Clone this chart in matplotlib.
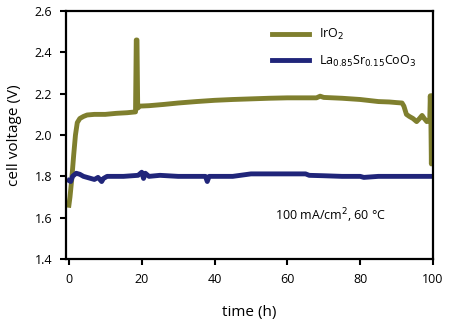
#!/usr/bin/env python3

from matplotlib import pyplot as plt

# IrO2 cell voltage (V) vs time (h)
t_iro2 = [0, 0.3, 0.8, 1.3, 1.8, 2.3, 3.0, 4.0, 5, 7, 10, 13, 16, 18.3, 18.5,
          18.7, 18.9, 19.5, 22, 26, 30, 35, 40, 45, 50, 55, 60, 65, 68, 69, 70,
          75, 80, 85, 88, 90, 91.5, 92, 92.7, 93.5, 94.5, 95.5, 96.3, 97, 97.6,
          98.3, 98.8, 99.1, 99.25, 99.4, 99.55, 99.7, 99.85, 100]
v_iro2 = [1.66, 1.70, 1.79, 1.90, 2.00, 2.06, 2.08, 2.09, 2.097, 2.10, 2.10,
          2.105, 2.108, 2.112, 2.46, 2.46, 2.13, 2.14, 2.142, 2.148, 2.155,
          2.162, 2.168, 2.172, 2.175, 2.178, 2.18, 2.18, 2.18, 2.188, 2.182,
          2.178, 2.172, 2.162, 2.16, 2.157, 2.155, 2.14, 2.10, 2.09, 2.08,
          2.065, 2.08, 2.095, 2.08, 2.065, 2.07, 2.07, 2.19, 2.10, 1.86, 2.19,
          2.12, 2.17]

# La0.85Sr0.15CoO3 cell voltage (V) vs time (h)
t_lsc = [0, 0.5, 1, 2, 3, 4, 5, 6, 7, 8, 9, 9.5, 10.5, 15, 19, 20, 20.5, 21,
         22, 25, 30, 37.5, 38, 38.5, 45, 50, 55, 60, 65, 66, 70, 75, 80, 81,
         85, 90, 95, 100]
v_lsc = [1.78, 1.775, 1.80, 1.815, 1.81, 1.80, 1.795, 1.79, 1.785, 1.795,
         1.775, 1.79, 1.80, 1.80, 1.805, 1.82, 1.79, 1.815, 1.80, 1.805, 1.80,
         1.80, 1.775, 1.80, 1.80, 1.812, 1.812, 1.812, 1.812, 1.805, 1.803,
         1.80, 1.80, 1.795, 1.80, 1.80, 1.80, 1.80]

x_ticks = [0, 20, 40, 60, 80, 100]
y_ticks = [1.4, 1.6, 1.8, 2.0, 2.2, 2.4, 2.6]

plt.rcParams['font.family'] = ['Open Sans', 'DejaVu Sans']
plt.rcParams.update({'font.size': 9})

fig = plt.figure(figsize=(4.66, 3.25), dpi=100)
ax = fig.add_axes([0.1416, 0.203, 0.7876, 0.763])

ax.plot(t_iro2, v_iro2, color="#7f7f2e", linewidth=3.5, label=r"IrO$_2$")
ax.plot(t_lsc, v_lsc, color="#20257a", linewidth=3.5,
        label=r"La$_{0.85}$Sr$_{0.15}$CoO$_3$")

ax.set_xlim(-0.8, 100)
ax.set_ylim(1.4, 2.6)
ax.set_xticks(x_ticks)
ax.set_yticks(y_ticks)
ax.set_yticklabels(["%.1f" % y for y in y_ticks])
ax.tick_params(direction="out", length=4, width=1.5, pad=6)
for s in ax.spines.values():
    s.set_linewidth(1.6)

ax.set_xlabel("time (h)", fontsize=11, labelpad=14)
ax.set_ylabel("cell voltage (V)", fontsize=11, labelpad=9)

ax.legend(loc="upper left", bbox_to_anchor=(0.53, 0.98), frameon=False,
          handlelength=3.0, labelspacing=0.9, fontsize=9)
ax.text(0.72, 0.175, r"100 mA/cm$^2$, 60 °C", transform=ax.transAxes,
        ha="center", va="center", fontsize=9)

plt.savefig("out.png", dpi=100)
